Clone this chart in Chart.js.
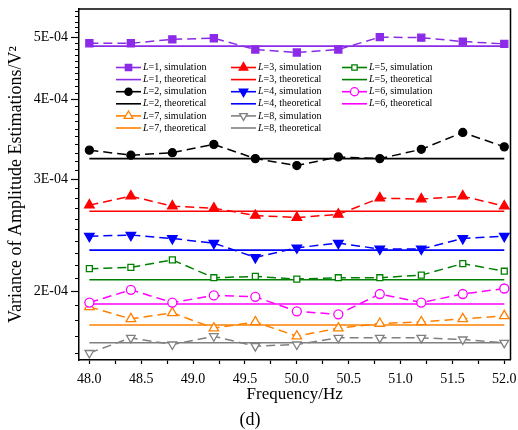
<!DOCTYPE html>
<html>
<head>
<meta charset="utf-8">
<script src="https://cdn.jsdelivr.net/npm/chart.js@4.4.1/dist/chart.umd.min.js"></script>
<style>
  html, body { margin: 0; padding: 0; background: #fff; }
  #wrap { width: 518px; height: 430px; }
</style>
</head>
<body>
<div id="wrap"><canvas id="chart" width="518" height="430"></canvas></div>
<script>
// frequencies (Hz)
const freqs = [48.0, 48.4, 48.8, 49.2, 49.6, 50.0, 50.4, 50.8, 51.2, 51.6, 52.0];

// simulation results, one array per L
const simL1 = [4.90e-4, 4.90e-4, 4.97e-4, 4.99e-4, 4.79e-4, 4.74e-4, 4.79e-4, 5.01e-4, 5.00e-4, 4.93e-4, 4.89e-4];
const simL2 = [3.33e-4, 3.27e-4, 3.30e-4, 3.40e-4, 3.23e-4, 3.15e-4, 3.25e-4, 3.23e-4, 3.34e-4, 3.55e-4, 3.37e-4];
const simL3 = [2.73e-4, 2.82e-4, 2.72e-4, 2.70e-4, 2.63e-4, 2.61e-4, 2.64e-4, 2.80e-4, 2.79e-4, 2.82e-4, 2.72e-4];
const simL4 = [2.44e-4, 2.45e-4, 2.42e-4, 2.38e-4, 2.26e-4, 2.34e-4, 2.38e-4, 2.33e-4, 2.33e-4, 2.42e-4, 2.44e-4];
const simL5 = [2.17e-4, 2.18e-4, 2.24e-4, 2.10e-4, 2.11e-4, 2.09e-4, 2.10e-4, 2.10e-4, 2.12e-4, 2.21e-4, 2.15e-4];
const simL6 = [1.92e-4, 2.01e-4, 1.92e-4, 1.97e-4, 1.96e-4, 1.86e-4, 1.84e-4, 1.98e-4, 1.92e-4, 1.98e-4, 2.02e-4];
const simL7 = [1.89e-4, 1.81e-4, 1.85e-4, 1.75e-4, 1.79e-4, 1.70e-4, 1.75e-4, 1.78e-4, 1.79e-4, 1.81e-4, 1.83e-4];
const simL8 = [1.60e-4, 1.69e-4, 1.65e-4, 1.70e-4, 1.64e-4, 1.65e-4, 1.69e-4, 1.69e-4, 1.69e-4, 1.68e-4, 1.66e-4];

// theoretical values, L=1..8
const theoValues = [4.85e-4, 3.23e-4, 2.67e-4, 2.32e-4, 2.085e-4, 1.91e-4, 1.77e-4, 1.66e-4];

// axis ticks
const xMajor = [48.0, 48.5, 49.0, 49.5, 50.0, 50.5, 51.0, 51.5, 52.0];
const xLabels = ['48.0', '48.5', '49.0', '49.5', '50.0', '50.5', '51.0', '51.5', '52.0'];
const xMinor = [48.25, 48.75, 49.25, 49.75, 50.25, 50.75, 51.25, 51.75];
const yMajor = [2e-4, 3e-4, 4e-4, 5e-4];
const yLabels = ['2E-04', '3E-04', '4E-04', '5E-04'];
const yMinor = [];
for (let k = 16; k <= 55; k++) {
    if (k % 10 !== 0) yMinor.push(k * 1e-5);
}

const sims = [simL1, simL2, simL3, simL4, simL5, simL6, simL7, simL8];
const colors = ['#8B2BE8', '#000000', '#FF0000', '#0000FF', '#008000', '#FF00FF', '#FF8000', '#808080'];
const markers = ['rect', 'circle', 'triangle', 'triangle', 'rect', 'circle', 'triangle', 'triangle'];
const rotations = [0, 0, 0, 180, 0, 0, 0, 180];
const filled = [true, true, true, true, false, false, false, false];
const radii = [5, 4, 5.5, 5.5, 4.2, 4.5, 5.5, 5];

const FONT = '"Liberation Serif", "Times New Roman", serif';

const datasets = [];
sims.forEach((sim, i) => {
    datasets.push({
        label: 'L=' + (i + 1) + ', simulation',
        data: freqs.map((f, j) => ({ x: f, y: sim[j] })),
        borderColor: colors[i],
        backgroundColor: filled[i] ? colors[i] : '#ffffff',
        borderWidth: 1.5,
        borderDash: [9, 5],
        pointStyle: markers[i],
        pointRotation: rotations[i],
        pointRadius: radii[i],
        pointBorderWidth: 1.3,
        pointBackgroundColor: filled[i] ? colors[i] : '#ffffff',
        pointBorderColor: colors[i],
        tension: 0
    });
    datasets.push({
        label: 'L=' + (i + 1) + ', theoretical',
        data: freqs.map(f => ({ x: f, y: theoValues[i] })),
        borderColor: colors[i],
        backgroundColor: colors[i],
        borderWidth: 1.6,
        pointRadius: 0,
        pointStyle: false,
        tension: 0
    });
});

// legend columns (dataset indexes), column-major like the figure
const legendColumns = [[0, 1, 2, 3, 12, 13], [4, 5, 6, 7, 14, 15], [8, 9, 10, 11]];

const decorPlugin = {
    id: 'decor',
    afterDraw(chart) {
        const ctx = chart.ctx;
        const area = chart.chartArea;
        const yScale = chart.scales.y;
        ctx.save();
        // top and right frame
        ctx.strokeStyle = '#000';
        ctx.lineWidth = 1.5;
        ctx.beginPath();
        ctx.moveTo(area.left, area.top);
        ctx.lineTo(area.right, area.top);
        ctx.lineTo(area.right, area.bottom);
        ctx.stroke();

        // minor y ticks
        ctx.lineWidth = 1.2;
        ctx.beginPath();
        yMinor.forEach(v => {
            const py = Math.round(yScale.getPixelForValue(v)) + 0.5;
            ctx.moveTo(area.left - 4, py);
            ctx.lineTo(area.left, py);
        });
        ctx.stroke();

        // legend
        const colX = [116, 231, 342];
        const rowY0 = 67.5;
        const rowStep = 12.1;
        legendColumns.forEach((col, c) => {
            col.forEach((di, r) => {
                const ds = chart.data.datasets[di];
                const x = colX[c];
                const y = rowY0 + r * rowStep;
                ctx.setLineDash([]);
                ctx.strokeStyle = ds.borderColor;
                ctx.lineWidth = 1.6;
                ctx.beginPath();
                ctx.moveTo(x, y);
                ctx.lineTo(x + 25, y);
                ctx.stroke();
                if (ds.pointRadius > 0) {
                    ctx.fillStyle = ds.pointBackgroundColor;
                    ctx.strokeStyle = ds.pointBorderColor;
                    ctx.lineWidth = 1.3;
                    Chart.helpers.drawPoint(ctx, {
                        pointStyle: ds.pointStyle,
                        rotation: ds.pointRotation,
                        radius: ds.pointRadius * 0.9,
                        borderWidth: 1.3
                    }, x + 12.5, y);
                }
                ctx.fillStyle = '#000';
                ctx.textBaseline = 'middle';
                ctx.textAlign = 'left';
                ctx.font = 'italic 10px ' + FONT;
                ctx.fillText('L', x + 27, y);
                const w = ctx.measureText('L').width;
                ctx.font = '10px ' + FONT;
                ctx.fillText(ds.label.slice(1), x + 27 + w, y);
            });
        });

        // panel caption
        ctx.fillStyle = '#000';
        ctx.font = '18px ' + FONT;
        ctx.textAlign = 'center';
        ctx.textBaseline = 'middle';
        ctx.fillText('(d)', 250, 420);
        ctx.restore();
    }
};

new Chart(document.getElementById('chart').getContext('2d'), {
    type: 'line',
    data: { datasets: datasets },
    options: {
        responsive: false,
        animation: false,
        layout: { padding: { top: 9, right: 7.5, left: 0, bottom: 0 } },
        plugins: {
            legend: { display: false },
            tooltip: { enabled: false }
        },
        scales: {
            x: {
                type: 'linear',
                min: 47.9,
                max: 52.06,
                afterBuildTicks: s => {
                    s.ticks = xMajor.concat(xMinor).sort((a, b) => a - b).map(v => ({ value: v }));
                },
                afterFit: s => { s.height = 70; },
                border: { color: '#000', width: 1.5 },
                grid: { drawOnChartArea: false, tickLength: 4, color: '#000', tickWidth: 1.2 },
                ticks: {
                    autoSkip: false,
                    maxRotation: 0,
                    padding: 1,
                    color: '#000',
                    font: { family: FONT, size: 14, lineHeight: 2.05 },
                    callback: v => {
                        const i = xMajor.findIndex(m => Math.abs(m - v) < 1e-9);
                        return i >= 0 ? xLabels[i] : '';
                    }
                },
                title: {
                    display: true,
                    text: 'Frequency/Hz',
                    color: '#000',
                    font: { family: FONT, size: 17 },
                    padding: { top: 0, bottom: 25 }
                }
            },
            y: {
                type: 'logarithmic',
                min: 1.56e-4,
                max: 5.546e-4,
                afterBuildTicks: s => {
                    s.ticks = yMajor.map(v => ({ value: v }));
                },
                afterFit: s => { s.width = 79; },
                border: { color: '#000', width: 1.5 },
                grid: { drawOnChartArea: false, tickLength: 8, color: '#000', tickWidth: 1.2 },
                ticks: {
                    padding: 3,
                    color: '#000',
                    font: { family: FONT, size: 14, lineHeight: 0.8 },
                    callback: v => {
                        const i = yMajor.findIndex(m => Math.abs(m - v) < 1e-12);
                        return i >= 0 ? yLabels[i] : '';
                    }
                },
                title: {
                    display: true,
                    text: 'Variance of Amplitude Estimations/V\u00B2',
                    color: '#000',
                    font: { family: FONT, size: 18 },
                    padding: { top: 5, bottom: 0 }
                }
            }
        }
    },
    plugins: [decorPlugin]
});
</script>
</body>
</html>
